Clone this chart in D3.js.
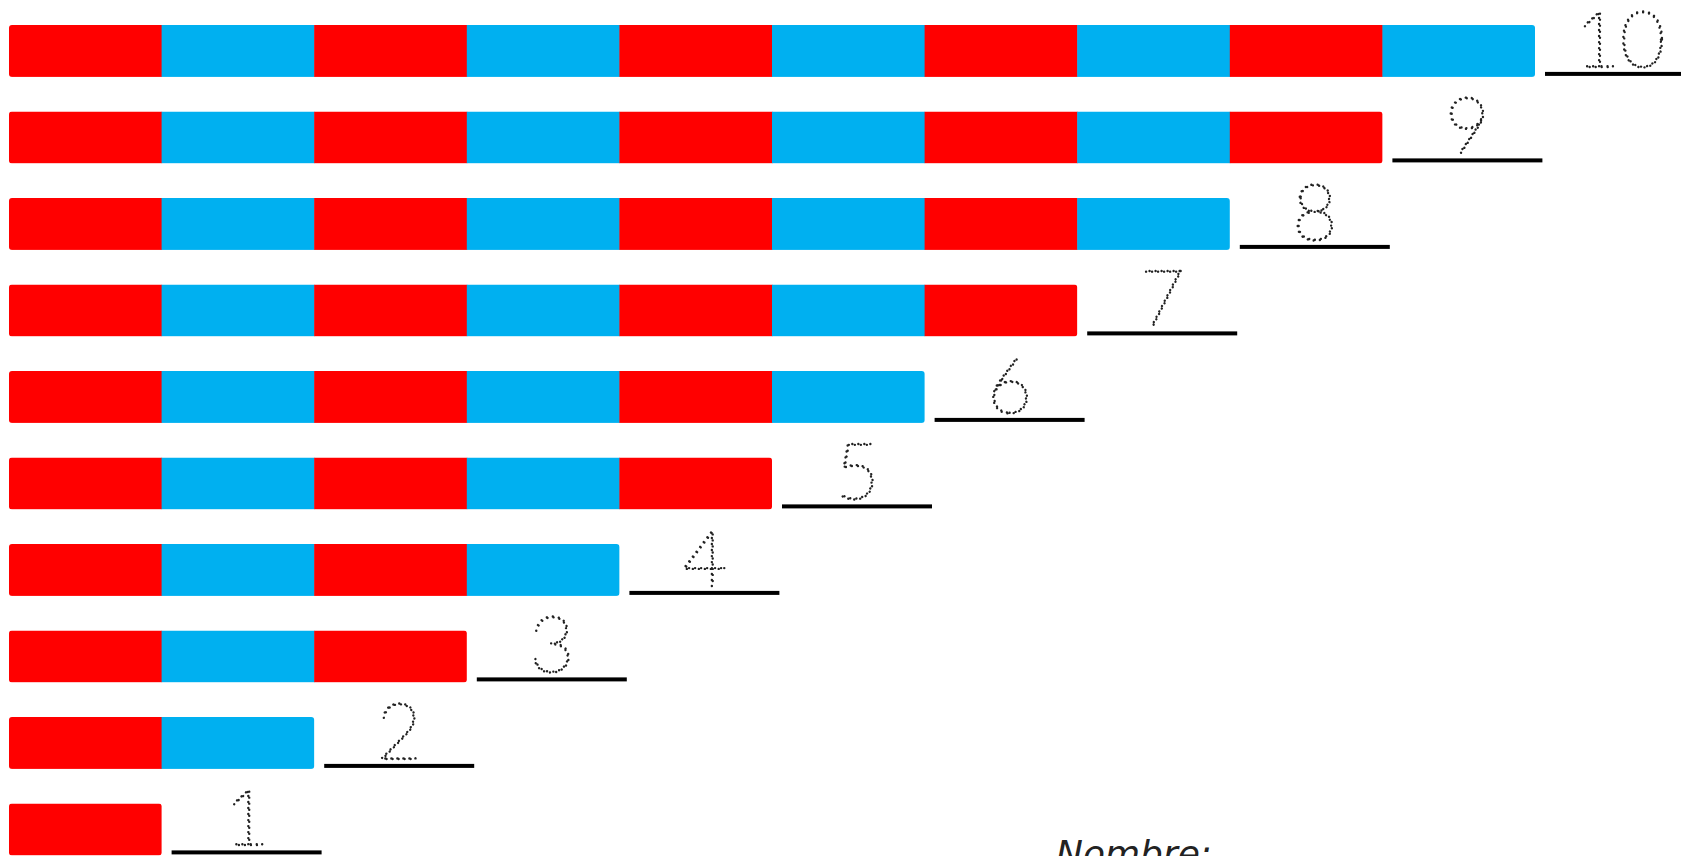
<!DOCTYPE html>
<meta charset="utf-8">
<style>
    html, body { margin: 0; padding: 0; background: #fff; overflow: hidden; }
</style>
<svg width="1681" height="856"></svg>

<script src="https://d3js.org/d3.v7.min.js"></script>
<script>
    // rod lengths, top to bottom
    var rods = [10, 9, 8, 7, 6, 5, 4, 3, 2, 1];
    var labels = ["10", "9", "8", "7", "6", "5", "4", "3", "2", "1"];
    var segmentColors = ["#FF0000", "#00B0F0"];
    var nameLabel = "Nombre:";

    (function () {
        var svg = d3.select("svg"),
            unit = 152.6,
            x = d3.scaleLinear()
                .domain([0, 11])
                .range([9, 9 + 11 * unit]),
            y = d3.scaleBand()
                .domain(rods)
                .range([25, 25 + 86.5 * 9.6])
                .paddingInner(0.4)
                .paddingOuter(0),
            color = function (i) {
                return segmentColors[i % 2];
            };

        var defs = svg.append("defs");

        defs.selectAll("clipPath")
            .data(rods)
            .enter()
            .append("clipPath")
            .attr("id", function (d) { return "rod" + d; })
            .append("rect")
            .attr("x", x(0))
            .attr("y", function (d) { return y(d); })
            .attr("width", function (d) { return x(d) - x(0); })
            .attr("height", y.bandwidth())
            .attr("rx", 3);

        var row = svg.selectAll("g.rod")
            .data(rods)
            .enter()
            .append("g")
            .attr("class", "rod");

        row.append("g")
            .attr("clip-path", function (d) { return "url(#rod" + d + ")"; })
            .selectAll("rect")
            .data(function (d) { return d3.range(d).map(function (i) { return {rod: d, i: i}; }); })
            .enter()
            .append("rect")
            .attr("x", function (s) { return x(s.i); })
            .attr("y", function (s) { return y(s.rod); })
            .attr("width", function (s) { return x(s.i + 1) - x(s.i) + 0.5; })
            .attr("height", y.bandwidth())
            .attr("fill", function (s) { return color(s.i); });

        // writing lines
        row.append("rect")
            .attr("x", function (d) { return x(d) + 10; })
            .attr("y", function (d) { return y(d) + y.bandwidth() - 5; })
            .attr("width", 150)
            .attr("height", 4)
            .attr("fill", "#000");

        // dotted tracing digits
        row.append("text")
            .attr("x", function (d) { return x(d) + 85; })
            .attr("y", function (d) { return y(d) + y.bandwidth() - 10; })
            .attr("text-anchor", "middle")
            .style("font-family", "Lato, 'DejaVu Sans', sans-serif")
            .style("font-weight", 100)
            .style("font-size", "78px")
            .attr("fill", "none")
            .attr("stroke", "#222")
            .attr("stroke-width", 2.4)
            .attr("stroke-linecap", "round")
            .attr("stroke-dasharray", "0.01 6")
            .text(function (d, i) { return labels[i]; });

        svg.append("text")
            .attr("x", 1056)
            .attr("y", 866)
            .style("font-family", "'DejaVu Sans', sans-serif")
            .style("font-style", "italic")
            .style("font-weight", 300)
            .style("font-size", "36px")
            .attr("fill", "#222")
            .text(nameLabel);
    })();
</script>
